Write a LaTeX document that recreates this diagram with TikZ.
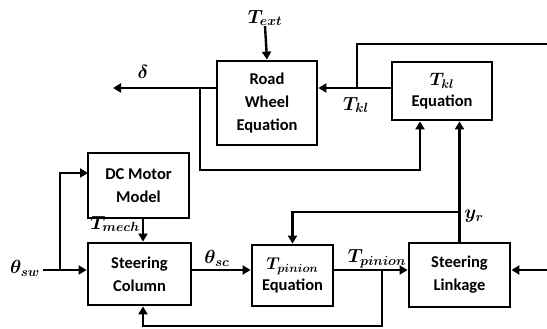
\RequirePackage{fix-cm}
\documentclass[tikz,border=0pt]{standalone}
\usepackage{fontspec}
\newfontfamily\boxfont{Carlito}
\usetikzlibrary{arrows.meta}
\begin{document}
\begin{tikzpicture}[x=1pt,y=-1pt,
  blk/.style={draw, line width=2.8pt, align=center, inner sep=0pt,
    font=\boxfont\bfseries\fontsize{16.5}{23}\selectfont},
  conn/.style={line width=2.4pt, -{Triangle[length=8pt,width=9pt]}},
  ln/.style={line width=2.4pt},
  lbl/.style={inner sep=0pt, font=\fontsize{19}{21}\selectfont\boldmath}]
\useasboundingbox (0,0) rectangle (547,329);

% blocks
\node[blk, minimum width=100pt, minimum height=84pt] (rw) at (267,103) {Road\\Wheel\\Equation};
\node[blk, minimum width=100pt, minimum height=58pt] (tkl) at (442,91) {{\fontsize{18}{20}\selectfont\boldmath $T_{kl}$}\\[-2pt]Equation};
\node[blk, minimum width=101pt, minimum height=65pt] (dc) at (138.5,185.5) {DC Motor\\Model};
\node[blk, minimum width=103pt, minimum height=62pt] (sc) at (139.5,274) {Steering\\Column};
\node[blk, minimum width=81pt, minimum height=61pt] (tp) at (292.5,275.5) {{\fontsize{17}{20}\selectfont\boldmath $T_{pinion}$}\\[-2pt]Equation};
\node[blk, minimum width=101pt, minimum height=64pt] (sl) at (459.5,275) {Steering\\Linkage};

% labels
\node[lbl] (text) at (265,18) {$T_{ext}$};
\node[lbl] (ldelta) at (143,72) {$\delta$};
\node[lbl] (ltkl) at (356,105) {$T_{kl}$};
\node[lbl] (ltmech) at (115,224) {$T_{mech}$};
\node[lbl] (lthsw) at (25,268) {$\theta_{sw}$};
\node[lbl] (lthsc) at (217,258) {$\theta_{sc}$};
\node[lbl] (ltpin) at (377,259) {$T_{pinion}$};
\node[lbl] (lyr) at (474,216) {$y_r$};

% coordinates
\coordinate (dout) at (113,88);
\coordinate (b1) at (200,88);
\coordinate (b2) at (420,170);
\coordinate (b3) at (357,88);
\coordinate (top) at (547,44);
\coordinate (b4) at (459.5,212);
\coordinate (thin) at (43,270);
\coordinate (b5) at (60,270);
\coordinate (b6) at (88,173);
\coordinate (b8) at (143,326);
\coordinate (b9) at (382,270);
\coordinate (rin) at (547,270);

% connectors
\draw[conn] (text.south) -- (rw.north);
\draw[conn] (rw.west |- dout) -- (dout);
\draw[conn] (b1) |- (b2) -- (b2 |- tkl.south);
\draw[conn] (tkl.west |- dout) -- (rw.east |- dout);
\draw[ln] (b3) |- (top);
\draw[conn] (sl.north) -- (sl.north |- tkl.south);
\draw[conn] (b4) -| (tp.north);
\draw[conn] (thin) -- (sc.west |- thin);
\draw[conn] (b5) |- (b6);
\draw[conn] (dc.south -| b8) -- (sc.north -| b8);
\draw[conn] (sc.east |- thin) -- (tp.west |- thin);
\draw[conn] (tp.east |- thin) -- (sl.west |- thin);
\draw[conn] (b9) |- (b8) -- (sc.south -| b8);
\draw[conn] (rin) -- (sl.east |- rin);
\end{tikzpicture}
\end{document}
